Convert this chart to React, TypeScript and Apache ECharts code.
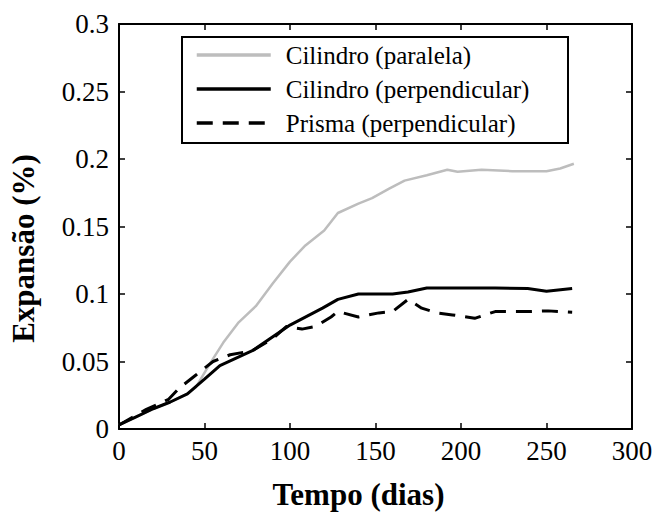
import React, { useEffect, useRef } from "react";
import * as echarts from "echarts";

const seriesNames = ["Cilindro (paralela)", "Cilindro (perpendicular)", "Prisma (perpendicular)"];

const paralela: [number, number][] = [
  [0, 0.003], [10, 0.009], [20, 0.015], [30, 0.02], [40, 0.026], [45, 0.031], [53, 0.048],
  [61, 0.064], [70, 0.079], [80, 0.091], [90, 0.108], [100, 0.124], [109, 0.136], [120, 0.147],
  [128, 0.16], [140, 0.167], [148, 0.171], [158, 0.178], [167, 0.184], [180, 0.188], [192, 0.192],
  [198, 0.1905], [212, 0.192], [230, 0.191], [250, 0.191], [258, 0.193], [266, 0.1965],
];

const cilPerp: [number, number][] = [
  [0, 0.003], [10, 0.009], [20, 0.015], [30, 0.02], [40, 0.026], [50, 0.037], [59, 0.047],
  [78, 0.058], [100, 0.077], [119, 0.0895], [128, 0.096], [140, 0.1], [160, 0.1], [169, 0.1015],
  [180, 0.1045], [198, 0.1045], [220, 0.1045], [239, 0.104], [250, 0.102], [265, 0.104],
];

const prisma: [number, number][] = [
  [0, 0.003], [16, 0.0145], [29, 0.022], [35, 0.03], [45, 0.04], [55, 0.05], [65, 0.055],
  [78, 0.058], [90, 0.067], [98, 0.076], [107, 0.074], [115, 0.076], [124, 0.083], [128, 0.087],
  [140, 0.083], [152, 0.086], [160, 0.087], [169, 0.096], [177, 0.0895], [186, 0.086],
  [195, 0.0845], [208, 0.082], [220, 0.087], [239, 0.087], [251, 0.0875], [265, 0.0865],
];

const xTitle = "Tempo (dias)";
const yTitle = "Expansão (%)";

const FONT = "Liberation Serif";

export default function App() {
  const ref = useRef<HTMLDivElement>(null);
  useEffect(() => {
    if (!ref.current) return;
    const chart = echarts.init(ref.current, null, { renderer: "svg" });
    const axisLine = { show: true, onZero: false, lineStyle: { color: "#000", width: 2 } };
    const tick = { show: true, inside: true, length: 6, lineStyle: { color: "#000", width: 1.5 } };
    const label = { color: "#000", fontFamily: FONT, fontSize: 27 };
    chart.setOption({
      animation: false,
      backgroundColor: "#fff",
      grid: { left: 117, right: 27, top: 24, bottom: 83 },
      xAxis: [
        {
          type: "value", min: 0, max: 300, interval: 50, position: "bottom",
          axisLine, axisTick: tick, splitLine: { show: false },
          axisLabel: { ...label, margin: 8 },
          name: xTitle, nameLocation: "middle", nameGap: 50,
          nameTextStyle: { color: "#000", fontFamily: FONT, fontSize: 31, fontWeight: "bold", padding: [0, 34, 0, 0] },
        },
        {
          type: "value", min: 0, max: 300, interval: 50, position: "top",
          axisLine, axisTick: tick, splitLine: { show: false }, axisLabel: { show: false },
        },
      ],
      yAxis: [
        {
          type: "value", min: 0, max: 0.3, interval: 0.05, position: "left",
          axisLine, axisTick: tick, splitLine: { show: false },
          axisLabel: { ...label, margin: 10 },
          name: yTitle, nameLocation: "middle", nameGap: 80,
          nameTextStyle: { color: "#000", fontFamily: FONT, fontSize: 31, fontWeight: "bold", padding: [0, 44, 0, 0] },
        },
        {
          type: "value", min: 0, max: 0.3, interval: 0.05, position: "right",
          axisLine, axisTick: tick, splitLine: { show: false }, axisLabel: { show: false },
        },
      ],
      legend: {
        orient: "vertical",
        left: 190,
        top: 36,
        itemWidth: 74,
        itemHeight: 14,
        itemGap: 6,
        data: seriesNames,
        itemStyle: { opacity: 0 },
        lineStyle: { width: 3.5 },
        textStyle: { color: "#000", fontFamily: FONT, fontSize: 25, padding: [0, 0, 0, 10], lineHeight: 28 },
      },
      graphic: [
        {
          type: "rect", z: 0,
          shape: { x: 182, y: 37, width: 386, height: 106 },
          style: { fill: "#fff", stroke: "#000", lineWidth: 2 },
        },
      ],
      series: [
        {
          name: seriesNames[0], type: "line", data: paralela, symbol: "none", z: 2,
          lineStyle: { color: "#bdbdbd", width: 2.5 }, itemStyle: { color: "#bdbdbd" },
        },
        {
          name: seriesNames[1], type: "line", data: cilPerp, symbol: "none", z: 3,
          lineStyle: { color: "#000", width: 3 }, itemStyle: { color: "#000" },
        },
        {
          name: seriesNames[2], type: "line", data: prisma, symbol: "none", z: 4,
          lineStyle: { color: "#000", width: 3, type: [16, 10] }, itemStyle: { color: "#000" },
        },
      ],
    });
    return () => chart.dispose();
  }, []);
  return <div ref={ref} style={{ width: 659, height: 515, position: "absolute", left: 0, top: 0 }} />;
}
